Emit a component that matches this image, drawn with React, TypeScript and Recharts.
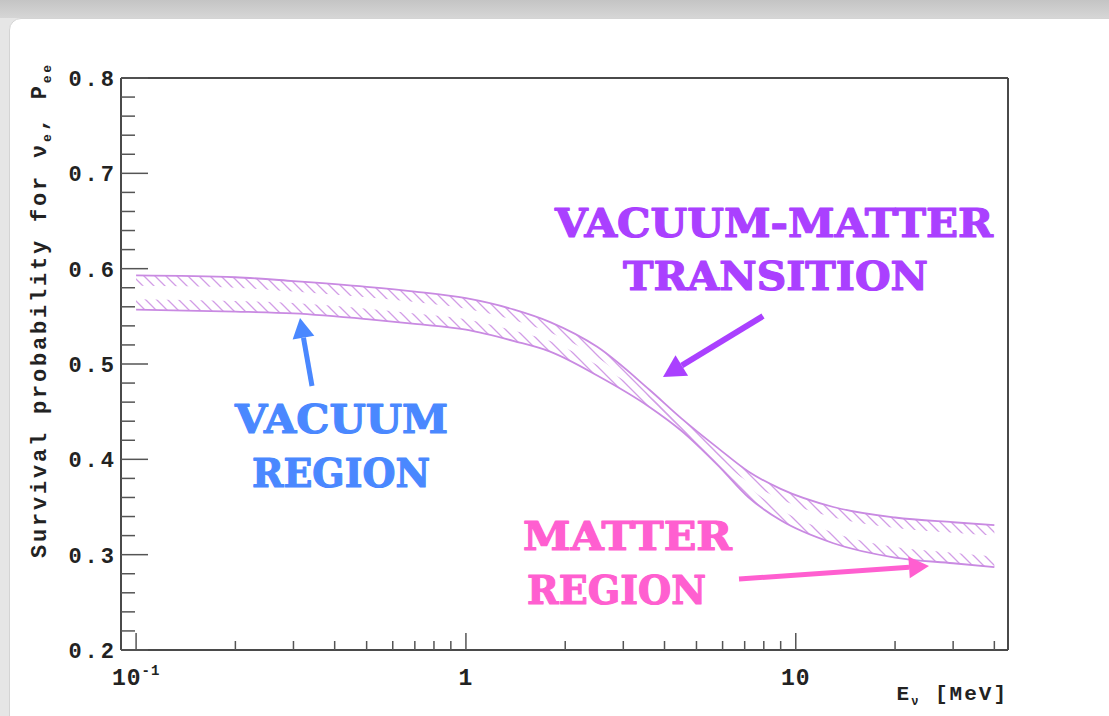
import React from "react";
import { Area, ComposedChart, Line, ReferenceLine, XAxis, YAxis } from "recharts";

// neutrino energy (MeV) and the two edges of the P_ee band
const energyMeV = [0.1, 0.2, 0.3, 0.5, 0.7, 1, 1.4, 1.8, 2.5, 3.6, 4.5, 5.8, 7.2, 9, 13, 20, 30, 40];
const peeUpper = [0.593, 0.591, 0.587, 0.581, 0.576, 0.569, 0.557, 0.544, 0.518, 0.473, 0.443, 0.412, 0.387, 0.369, 0.35, 0.339, 0.334, 0.331];
const peeLower = [0.557, 0.555, 0.553, 0.547, 0.542, 0.536, 0.524, 0.513, 0.488, 0.455, 0.43, 0.394, 0.36, 0.336, 0.312, 0.297, 0.291, 0.287];

const xMajorTicks = [0.1, 1, 10];
const xMinorTicks = [0.2, 0.3, 0.4, 0.5, 0.6, 0.7, 0.8, 0.9, 2, 3, 4, 5, 6, 7, 8, 9, 20, 30, 40];
const xTickLabels = ["10", "1", "10"];
const yMajorTicks = [0.2, 0.3, 0.4, 0.5, 0.6, 0.7, 0.8];
const yMinorTicks = [
  0.22, 0.24, 0.26, 0.28, 0.32, 0.34, 0.36, 0.38, 0.42, 0.44, 0.46, 0.48,
  0.52, 0.54, 0.56, 0.58, 0.62, 0.64, 0.66, 0.68, 0.72, 0.74, 0.76, 0.78,
];

const X_DOMAIN: [number, number] = [0.09, 44];
const Y_DOMAIN: [number, number] = [0.2, 0.8];
const HATCH = 0.011; // thickness of the hatched strip along each edge

const BAND = "#c98ae2";
const FRAME = "#4a4a4a";
const MONO = "'Liberation Mono', 'DejaVu Sans Mono', monospace";
const BIG = "'DejaVu Serif', serif";

const rows = energyMeV.map((e, i) => ({
  e,
  upper: peeUpper[i],
  lower: peeLower[i],
  upperHatch: [peeUpper[i] - HATCH, peeUpper[i]],
  lowerHatch: [peeLower[i], peeLower[i] + HATCH],
}));

function XTick(props: any) {
  const { x, y, payload } = props;
  const idx = xMajorTicks.indexOf(payload.value);
  const major = idx >= 0;
  return (
    <g>
      <line x1={x} x2={x} y1={y} y2={y - (major ? 17 : 9)} stroke="#555" strokeWidth={1.5} />
      {major && (
        <text
          x={x}
          y={y + 35}
          textAnchor="middle"
          fontFamily={MONO}
          fontWeight={700}
          fontSize={23}
          letterSpacing={1}
          fill="#222"
        >
          {xTickLabels[idx]}
          {idx === 0 && (
            <tspan fontSize={14} dy={-10}>
              -1
            </tspan>
          )}
        </text>
      )}
    </g>
  );
}

function YTick(props: any) {
  const { x, y, payload } = props;
  const major = yMajorTicks.some((t) => Math.abs(t - payload.value) < 1e-6);
  return (
    <g>
      <line x1={x} x2={x + (major ? 27 : 14)} y1={y} y2={y} stroke="#555" strokeWidth={1.5} />
      {major && (
        <text
          x={x - 4}
          y={y + 8}
          textAnchor="end"
          fontFamily={MONO}
          fontWeight={700}
          fontSize={22}
          letterSpacing={3}
          fill="#222"
        >
          {payload.value.toFixed(1)}
        </text>
      )}
    </g>
  );
}

function Arrow({ x1, y1, x2, y2, color, width, head }: any) {
  const a = Math.atan2(y2 - y1, x2 - x1);
  const bx = x2 - head * Math.cos(a);
  const by = y2 - head * Math.sin(a);
  const nx = -Math.sin(a);
  const ny = Math.cos(a);
  const hw = head * 0.55;
  return (
    <g>
      <line x1={x1} y1={y1} x2={bx} y2={by} stroke={color} strokeWidth={width} />
      <polygon
        points={`${x2},${y2} ${bx + nx * hw},${by + ny * hw} ${bx - nx * hw},${by - ny * hw}`}
        fill={color}
      />
    </g>
  );
}

function Word({ x, y, len, color, children }: any) {
  return (
    <text
      x={x}
      y={y}
      textLength={len}
      lengthAdjust="spacingAndGlyphs"
      fontFamily={BIG}
      fontWeight={700}
      fontSize={40}
      stroke={color}
      strokeWidth={1.2}
      strokeLinejoin="round"
      fill={color}
    >
      {children}
    </text>
  );
}

export default function App() {
  return (
    <div
      style={{
        position: "absolute",
        left: 0,
        top: 0,
        width: 1109,
        height: 716,
        overflow: "hidden",
        background: "linear-gradient(#c4c4c4, #d6d6d6 18px, #e6e6e6 18px)",
      }}
    >
      <div
        style={{
          position: "absolute",
          left: 9,
          top: 18,
          width: 1120,
          height: 720,
          background: "#fff",
          borderTopLeftRadius: 12,
          border: "1px solid #d4d4d4",
        }}
      />
      <svg width={0} height={0} style={{ position: "absolute" }}>
        <defs>
          <pattern id="hatch" patternUnits="userSpaceOnUse" width={11} height={11}>
            <path d="M0,0 L11,11 M-3,8 L3,14 M8,-3 L14,3" stroke="#d29de6" strokeWidth={1.3} />
          </pattern>
        </defs>
      </svg>
      <div style={{ position: "absolute", left: 0, top: 0 }}>
        <ComposedChart
          width={1109}
          height={716}
          data={rows}
          margin={{ top: 78, right: 101, bottom: 16, left: 71 }}
        >
          <XAxis
            dataKey="e"
            type="number"
            scale="log"
            domain={X_DOMAIN}
            allowDataOverflow
            ticks={[...xMajorTicks, ...xMinorTicks].sort((a, b) => a - b)}
            interval={0}
            height={50}
            tickSize={0}
            tickMargin={0}
            tickLine={false}
            axisLine={{ stroke: FRAME, strokeWidth: 2 }}
            tick={<XTick />}
          />
          <YAxis
            type="number"
            domain={Y_DOMAIN}
            allowDataOverflow
            ticks={[...yMajorTicks, ...yMinorTicks].sort((a, b) => a - b)}
            interval={0}
            width={50}
            tickSize={0}
            tickMargin={0}
            tickLine={false}
            axisLine={{ stroke: FRAME, strokeWidth: 2 }}
            tick={<YTick />}
          />
          <ReferenceLine y={Y_DOMAIN[1]} stroke={FRAME} strokeWidth={2} />
          <ReferenceLine x={X_DOMAIN[1]} stroke={FRAME} strokeWidth={2} />
          <Area
            dataKey="upperHatch"
            type="monotone"
            stroke="none"
            fill="url(#hatch)"
            fillOpacity={1}
            isAnimationActive={false}
          />
          <Area
            dataKey="lowerHatch"
            type="monotone"
            stroke="none"
            fill="url(#hatch)"
            fillOpacity={1}
            isAnimationActive={false}
          />
          <Line dataKey="upper" type="monotone" stroke={BAND} strokeWidth={1.8} dot={false} isAnimationActive={false} />
          <Line dataKey="lower" type="monotone" stroke={BAND} strokeWidth={1.8} dot={false} isAnimationActive={false} />
        </ComposedChart>
      </div>
      <svg
        width={1109}
        height={716}
        style={{ position: "absolute", left: 0, top: 0, pointerEvents: "none" }}
      >
        <text
          x={46}
          y={310}
          transform="rotate(-90 46 310)"
          textAnchor="middle"
          fontFamily={MONO}
          fontWeight={700}
          fontSize={22}
          letterSpacing={2.8}
          fill="#222"
        >
          Survival probability for ν
          <tspan fontSize={13} dy={5}>e</tspan>
          <tspan dy={-5}>, P</tspan>
          <tspan fontSize={13} dy={5}>ee</tspan>
        </text>
        <text
          x={1008}
          y={700}
          textAnchor="end"
          fontFamily={MONO}
          fontWeight={700}
          fontSize={21}
          letterSpacing={2}
          fill="#222"
        >
          E<tspan fontSize={12} dy={5}>ν</tspan>
          <tspan dy={-5}>{"  [MeV]"}</tspan>
        </text>

        <Word x={555} y={237} len={438} color="#aa40ff">VACUUM-MATTER</Word>
        <Word x={623} y={290} len={305} color="#aa40ff">TRANSITION</Word>
        <Word x={235} y={433} len={213} color="#4a88ff">VACUUM</Word>
        <Word x={252} y={487} len={178} color="#4a88ff">REGION</Word>
        <Word x={523} y={550} len={209} color="#ff5fd0">MATTER</Word>
        <Word x={527} y={604} len={179} color="#ff5fd0">REGION</Word>

        <Arrow x1={763} y1={316} x2={663} y2={377} color="#aa40ff" width={6} head={22} />
        <Arrow x1={312} y1={386} x2={300} y2={318} color="#4a88ff" width={5} head={20} />
        <Arrow x1={739} y1={579} x2={929} y2={566} color="#ff5fd0" width={5} head={20} />
      </svg>
    </div>
  );
}
